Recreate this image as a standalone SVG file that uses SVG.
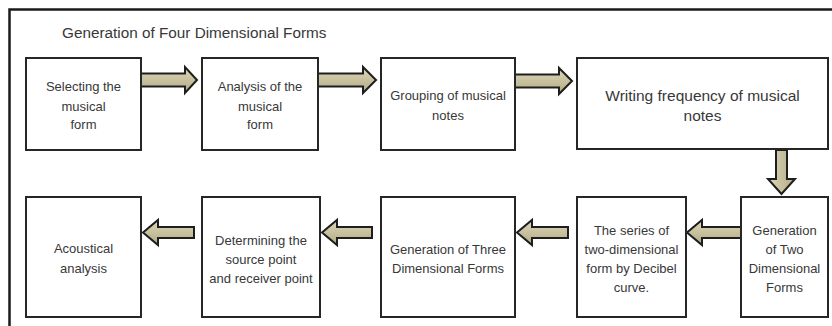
<svg xmlns="http://www.w3.org/2000/svg" width="832" height="326" viewBox="0 0 832 326">
<style>
.box{fill:#fff;stroke:#262626;stroke-width:2}
.t{font-family:"Liberation Sans",Arial,sans-serif;font-size:13px;fill:#383838;text-anchor:middle}
.big{font-size:15.5px}
.title{font-family:"Liberation Sans",Arial,sans-serif;font-size:15.3px;fill:#383838}
.arr{fill:url(#g);stroke:#1e1e1e;stroke-width:2;stroke-linejoin:miter}
.varr{fill:url(#gv);stroke:#1e1e1e;stroke-width:2}
</style>
<defs>
<linearGradient id="g" x1="0" y1="0" x2="0" y2="1">
<stop offset="0" stop-color="#ddd8ba"/><stop offset="1" stop-color="#b3aa84"/>
</linearGradient>
<linearGradient id="gv" x1="0" y1="0" x2="1" y2="0">
<stop offset="0" stop-color="#ddd8ba"/><stop offset="1" stop-color="#b3aa84"/>
</linearGradient>
</defs>
<rect width="832" height="326" fill="#fff"/>
<path d="M9.5 326 V9.5 H832" fill="none" stroke="#1a1a1a" stroke-width="2.5"/>
<text class="title" x="62" y="38">Generation of Four Dimensional Forms</text>

<g id="connectors">
<polygon class="arr" points="141,73.5 185,73.5 185,67 197,80 185,93 185,86.5 141,86.5"/>
<polygon class="arr" points="318,73.5 363,73.5 363,67 376,80 363,93 363,86.5 318,86.5"/>
<polygon class="arr" points="515,74.5 559,74.5 559,68 572,81 559,94 559,87.5 515,87.5"/>
<polygon class="varr" points="776,150 787,150 787,179 795,179 781.5,194 768,179 776,179"/>
<polygon class="arr" points="741,227 702,227 702,220 687,232.5 702,245 702,238 741,238"/>
<polygon class="arr" points="568,227 532,227 532,220 517,232.5 532,245 532,238 568,238"/>
<polygon class="arr" points="372,227 337,227 337,220 322,232.5 337,245 337,238 372,238"/>
<polygon class="arr" points="194,227 158,227 158,220 143,232.5 158,245 158,238 194,238"/>
</g>

<g id="n1"><rect class="box" x="26" y="58" width="115" height="92"/>
<text class="t" x="83.5" y="90.5">Selecting the</text><text class="t" x="83.5" y="110.5">musical</text><text class="t" x="83.5" y="128.5">form</text></g>
<g id="n2"><rect class="box" x="202" y="58" width="116" height="92"/>
<text class="t" x="260" y="90.5">Analysis of the</text><text class="t" x="260" y="110.5">musical</text><text class="t" x="260" y="128.5">form</text></g>
<g id="n3"><rect class="box" x="381" y="58" width="134" height="92"/>
<text class="t" x="448" y="99.5">Grouping of musical</text><text class="t" x="448" y="119.5">notes</text></g>
<g id="n4"><rect class="box" x="577" y="58" width="251" height="91"/>
<text class="t big" x="702.5" y="100.5">Writing frequency of musical</text><text class="t big" x="702.5" y="120.5">notes</text></g>

<g id="n5"><rect class="box" x="741" y="197" width="87" height="120"/>
<text class="t" x="784.5" y="234.5">Generation</text><text class="t" x="784.5" y="253.5">of Two</text><text class="t" x="784.5" y="272.5">Dimensional</text><text class="t" x="784.5" y="291.5">Forms</text></g>
<g id="n6"><rect class="box" x="577" y="197" width="109" height="120"/>
<text class="t" x="631.5" y="234.5">The series of</text><text class="t" x="631.5" y="253.5">two-dimensional</text><text class="t" x="631.5" y="272.5">form by Decibel</text><text class="t" x="631.5" y="291.5">curve.</text></g>
<g id="n7"><rect class="box" x="381" y="197" width="134" height="120"/>
<text class="t" x="448" y="253.5">Generation of Three</text><text class="t" x="448" y="272.5">Dimensional Forms</text></g>
<g id="n8"><rect class="box" x="202" y="197" width="118" height="120"/>
<text class="t" x="261" y="244.5">Determining the</text><text class="t" x="261" y="263.5">source point</text><text class="t" x="261" y="282.5">and receiver point</text></g>
<g id="n9"><rect class="box" x="26" y="197" width="115" height="120"/>
<text class="t" x="83.5" y="252.5">Acoustical</text><text class="t" x="83.5" y="272.5">analysis</text></g>
</svg>
